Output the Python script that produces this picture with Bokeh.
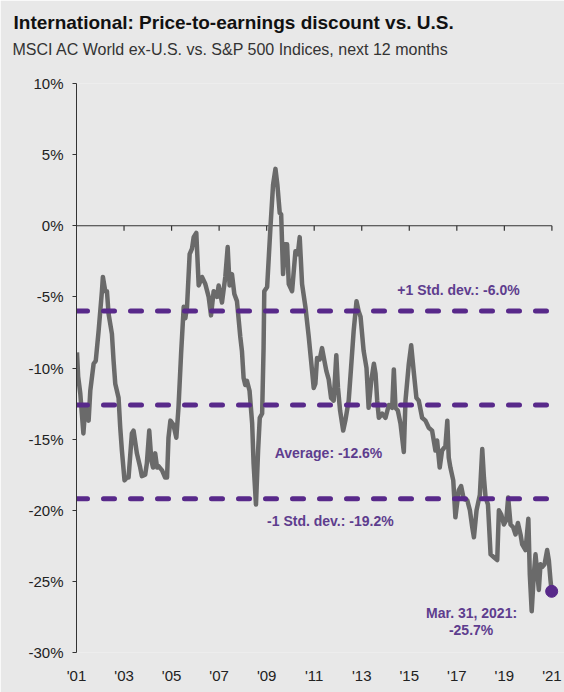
from bokeh.plotting import figure
from bokeh.models import Title, FixedTicker, PrintfTickFormatter, ColumnDataSource
from bokeh.core.properties import value
from bokeh.embed import file_html
from bokeh.resources import INLINE

# ---- data ----
years = [2001.02, 2001.07, 2001.16, 2001.29, 2001.37, 2001.51, 2001.58, 2001.72, 2001.81, 2001.93,
         2002.07, 2002.11, 2002.21, 2002.28, 2002.35, 2002.49, 2002.56, 2002.63, 2002.77, 2002.84,
         2002.91, 2003.02, 2003.12, 2003.19, 2003.33, 2003.40, 2003.54, 2003.68, 2003.75, 2003.89,
         2003.96, 2004.06, 2004.15, 2004.22, 2004.31, 2004.39, 2004.45, 2004.60, 2004.73, 2004.81,
         2004.87, 2004.95, 2005.08, 2005.20, 2005.29, 2005.40, 2005.51, 2005.58, 2005.65, 2005.76,
         2005.86, 2005.93, 2006.04, 2006.14, 2006.28, 2006.42, 2006.56, 2006.66, 2006.77, 2006.91,
         2006.98, 2007.12, 2007.26, 2007.36, 2007.44, 2007.54, 2007.64, 2007.75, 2007.89, 2007.96,
         2008.03, 2008.10, 2008.17, 2008.28, 2008.39, 2008.45, 2008.55, 2008.64, 2008.71, 2008.81,
         2008.87, 2008.90, 2009.02, 2009.16, 2009.27, 2009.37, 2009.45, 2009.55, 2009.61, 2009.69,
         2009.76, 2009.86, 2009.93, 2010.07, 2010.21, 2010.31, 2010.39, 2010.49, 2010.63, 2010.77,
         2010.91, 2010.98, 2011.05, 2011.12, 2011.23, 2011.33, 2011.43, 2011.51, 2011.61, 2011.71,
         2011.82, 2011.93, 2012.00, 2012.09, 2012.22, 2012.31, 2012.45, 2012.55, 2012.66, 2012.78,
         2012.87, 2012.95, 2013.08, 2013.20, 2013.29, 2013.40, 2013.51, 2013.58, 2013.65, 2013.72,
         2013.86, 2014.00, 2014.14, 2014.28, 2014.35, 2014.42, 2014.52, 2014.63, 2014.77, 2014.84,
         2014.98, 2015.08, 2015.19, 2015.30, 2015.40, 2015.54, 2015.68, 2015.82, 2015.96, 2016.03,
         2016.10, 2016.17, 2016.28, 2016.38, 2016.52, 2016.60, 2016.66, 2016.73, 2016.85, 2016.94,
         2017.08, 2017.18, 2017.29, 2017.44, 2017.55, 2017.65, 2017.72, 2017.83, 2017.97, 2018.07,
         2018.14, 2018.21, 2018.31, 2018.42, 2018.56, 2018.70, 2018.77, 2018.87, 2018.98, 2019.08,
         2019.16, 2019.26, 2019.37, 2019.47, 2019.57, 2019.68, 2019.75, 2019.89, 2020.01, 2020.07,
         2020.15, 2020.24, 2020.31, 2020.39, 2020.45, 2020.52, 2020.59, 2020.69, 2020.80, 2020.87,
         2020.94, 2020.99]
discount = [-8.9, -10.6, -11.8, -14.6, -12.8, -13.7, -11.6, -9.7, -9.5, -7.4,
            -4.6, -3.6, -4.6, -4.6, -6.2, -7.6, -9.5, -11.1, -12.1, -14.2,
            -15.8, -17.9, -17.7, -17.7, -14.6, -14.4, -16.0, -17.0, -17.6, -17.5,
            -16.7, -14.4, -16.5, -17.0, -16.0, -17.0, -16.9, -17.2, -17.7, -17.7,
            -14.9, -13.7, -14.0, -14.9, -12.8, -9.0, -5.7, -6.5, -5.7, -2.0,
            -1.6, -0.8, -0.5, -4.2, -3.6, -4.1, -5.0, -6.3, -4.6, -5.0,
            -4.2, -5.4, -3.6, -1.5, -4.2, -3.4, -4.8, -5.3, -7.8, -8.8,
            -10.7, -11.2, -10.9, -11.6, -13.9, -16.7, -19.6, -15.8, -13.5, -13.2,
            -8.6, -4.6, -4.3, -0.1, 2.9, 4.0, 2.9, 0.9, 0.8, -3.4,
            -1.3, -1.3, -4.1, -4.6, -1.8, -2.0, -0.8, -4.1, -5.7, -7.8,
            -10.2, -11.4, -11.1, -9.3, -9.4, -8.6, -9.5, -10.2, -10.8, -12.1,
            -12.3, -9.1, -11.4, -13.0, -14.4, -13.7, -12.3, -10.0, -7.4, -5.3,
            -6.0, -6.4, -8.8, -10.0, -12.8, -10.9, -9.7, -10.4, -12.3, -13.5,
            -13.2, -13.5, -12.6, -12.8, -10.1, -12.8, -13.0, -13.9, -15.9, -12.3,
            -9.7, -8.4, -10.3, -12.1, -12.3, -13.5, -13.7, -14.2, -14.4, -15.1,
            -15.8, -15.1, -17.0, -15.8, -15.5, -13.7, -16.3, -17.0, -17.9, -20.5,
            -18.6, -18.3, -19.2, -19.3, -20.0, -21.2, -21.9, -20.0, -18.9, -15.7,
            -17.7, -19.1, -19.6, -23.1, -23.3, -23.5, -20.0, -20.3, -21.0, -20.7,
            -19.1, -21.0, -21.2, -21.7, -20.9, -21.7, -22.4, -22.8, -20.6, -24.5,
            -27.1, -24.5, -23.1, -24.5, -25.6, -23.8, -24.0, -23.8, -22.8, -23.5,
            -24.9, -25.7]

average = -12.6
plus_1sd = -6.0
minus_1sd = -19.2
last_label = "Mar. 31, 2021:"
last_value = -25.7

title_text = "International: Price-to-earnings discount vs. U.S."
subtitle_text = "MSCI AC World ex-U.S. vs. S&P 500 Indices, next 12 months"

x_ticks = [2001, 2003, 2005, 2007, 2009, 2011, 2013, 2015, 2017, 2019, 2021]
x_tick_labels = ["'01", "'03", "'05", "'07", "'09", "'11", "'13", "'15", "'17", "'19", "'21"]
y_ticks = [-30, -25, -20, -15, -10, -5, 0, 5, 10]

# ---- styling ----
BG = "#e8e8e8"
PURPLE = "#58298a"
LABEL_PURPLE = "#5e3d8e"
GRAY = "#6a6a6a"
AXIS = "#333333"
FONT = "Liberation Sans"

x_start, x_end = x_ticks[0], x_ticks[-1]

p = figure(width=564, height=692, output_backend="svg", toolbar_location=None,
           x_range=(x_start, 2021.53), y_range=(y_ticks[0], y_ticks[-1]),
           min_border_left=76, min_border_right=0, min_border_bottom=40, min_border_top=83)
p.background_fill_color = BG
p.border_fill_color = BG
p.outline_line_color = None
p.grid.visible = False

# titles (first added sits closest to the frame)
p.add_layout(Title(text=subtitle_text, text_font=FONT, text_font_size="16px",
                   text_font_style="normal", text_color="#333333", align="left",
                   offset=-64, standoff=52), "above")
p.add_layout(Title(text=title_text, text_font=FONT, text_font_size="19px",
                   text_font_style="bold", text_color="#111111", align="left",
                   offset=-63, standoff=-40), "above")

# x axis: labels only
xa = p.xaxis[0]
xa.ticker = FixedTicker(ticks=x_ticks)
xa.major_label_overrides = {t: l for t, l in zip(x_ticks, x_tick_labels)}
xa.axis_line_color = None
xa.major_tick_line_color = None
xa.minor_tick_line_color = None
xa.major_label_standoff = 8
xa.major_label_text_font = FONT
xa.major_label_text_font_size = "15px"
xa.major_label_text_color = "#222222"

# y axis
ya = p.yaxis[0]
ya.ticker = FixedTicker(ticks=y_ticks)
ya.formatter = PrintfTickFormatter(format="%d%%")
ya.axis_line_color = AXIS
ya.major_tick_line_color = AXIS
ya.major_tick_out = 4
ya.major_tick_in = 0
ya.minor_tick_line_color = None
ya.major_label_standoff = 9
ya.major_label_text_font = FONT
ya.major_label_text_font_size = "15px"
ya.major_label_text_color = "#222222"

# zero line with tick marks
p.segment(x0=[x_start], y0=[0], x1=[x_end], y1=[0], line_color=AXIS, line_width=1.2)
p.segment(x0=x_ticks[1:], y0=[0] * (len(x_ticks) - 1), x1=x_ticks[1:],
          y1=[-0.35] * (len(x_ticks) - 1), line_color=AXIS, line_width=1.2)

# series
src = ColumnDataSource(dict(x=years, y=discount))
p.line("x", "y", source=src, line_color=GRAY, line_width=4.5, line_join="round")

# reference lines
for lvl in (plus_1sd, average, minus_1sd):
    p.line([x_start, x_end], [lvl, lvl], line_color=PURPLE, line_width=5,
           line_dash="11 16", line_cap="round")

# end point
p.scatter([years[-1]], [discount[-1]], size=12, color=PURPLE, line_color=PURPLE)

lab_kw = dict(text_font=value(FONT), text_font_size="14px", text_font_style="bold",
              text_color=LABEL_PURPLE, text_align="center", text_baseline="middle")
p.text(x=[2017.07], y=[plus_1sd + 1.5], text=[f"+1 Std. dev.: {plus_1sd:.1f}%"], **lab_kw)
p.text(x=[2011.6], y=[average - 3.4], text=[f"Average: {average:.1f}%"], **lab_kw)
p.text(x=[2011.68], y=[minus_1sd - 1.55], text=[f"-1 Std. dev.: {minus_1sd:.1f}%"], **lab_kw)
p.text(x=[2017.62], y=[last_value - 1.5], text=[last_label], **lab_kw)
p.text(x=[2017.6], y=[last_value - 2.7], text=[f"{last_value:.1f}%"], **lab_kw)

open("out.html", "w").write(file_html(p, INLINE))
